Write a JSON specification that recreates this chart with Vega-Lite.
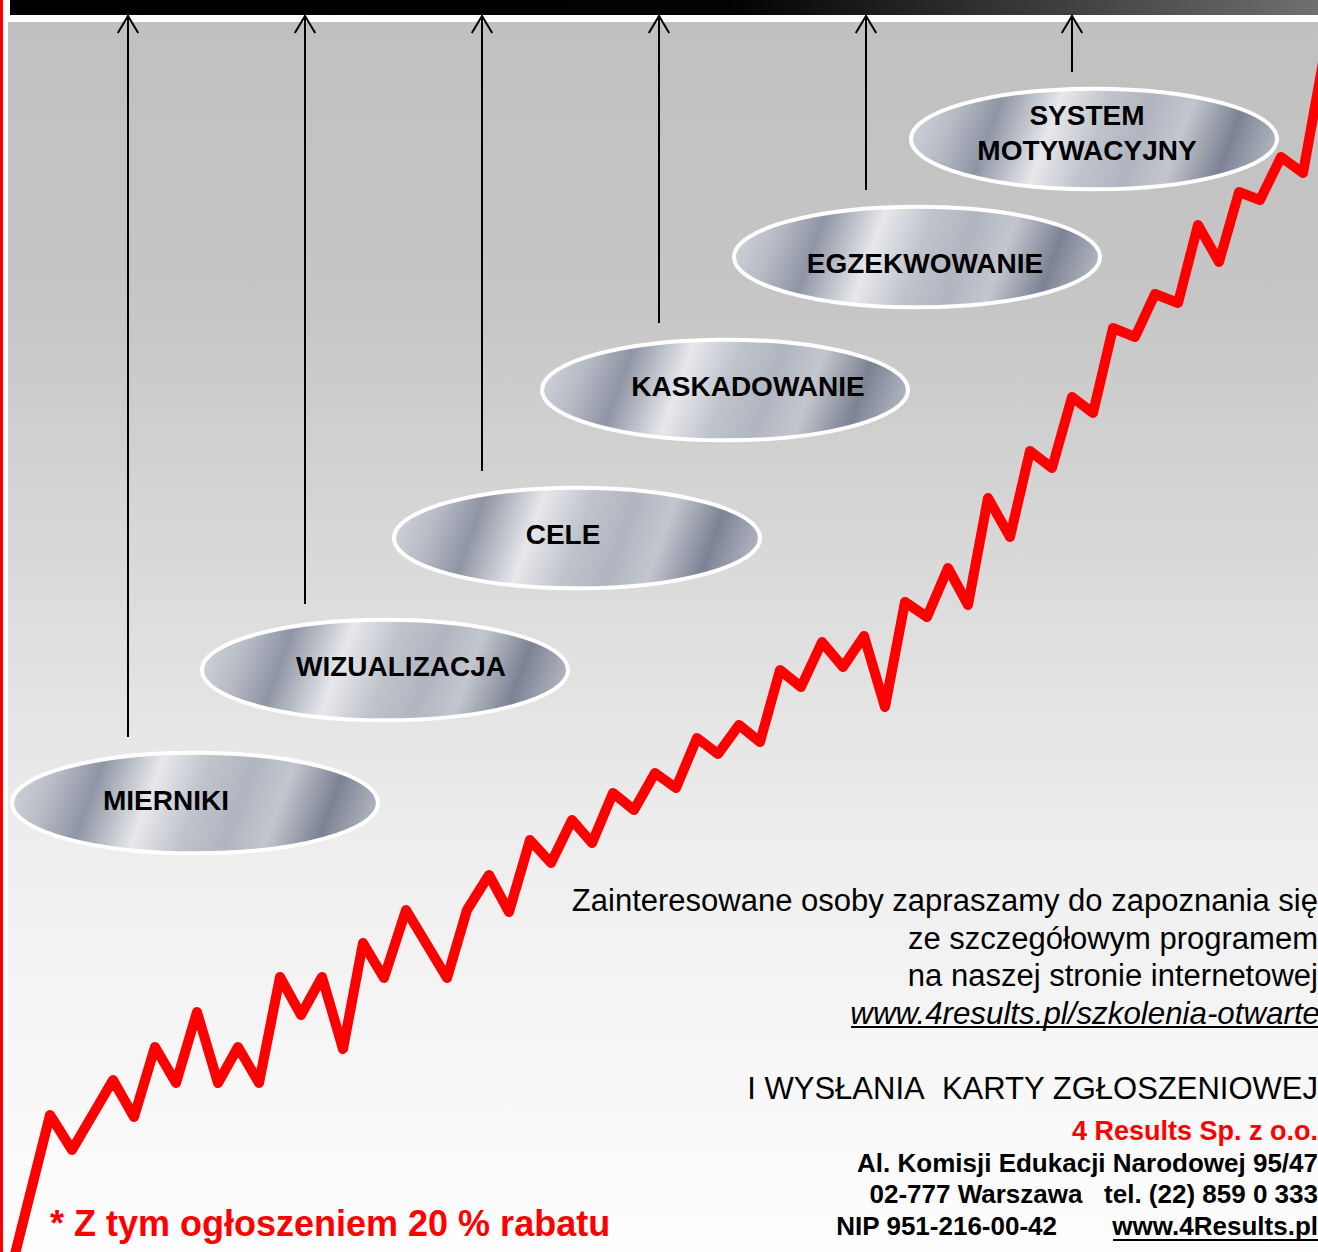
{
  "$schema": "https://vega.github.io/schema/vega-lite/v6.json",
  "width": 1318,
  "height": 1252,
  "autosize": {"type": "none"},
  "padding": 0,
  "background": "white",
  "config": {"view": {"stroke": null}},
  "datasets": {
    "frame": [
      {"part": "background", "x": 8, "x2": 1318, "y": 22, "y2": 1252},
      {"part": "top bar", "x": 10, "x2": 1318, "y": 0, "y2": 15},
      {"part": "left edge", "x": 0, "x2": 3, "y": 0, "y2": 1252}
    ],
    "stages": [
      {"stage": 1, "label": "MIERNIKI", "cx": 195, "cy": 803, "lx": 166, "ly": 810, "ax": 128, "atip": 17, "ahead": 24.5, "ay": 737},
      {"stage": 2, "label": "WIZUALIZACJA", "cx": 385, "cy": 670, "lx": 401, "ly": 676, "ax": 305, "atip": 17, "ahead": 24.5, "ay": 604},
      {"stage": 3, "label": "CELE", "cx": 577, "cy": 538, "lx": 563, "ly": 544, "ax": 482, "atip": 17, "ahead": 24.5, "ay": 471},
      {"stage": 4, "label": "KASKADOWANIE", "cx": 725, "cy": 390, "lx": 748, "ly": 396, "ax": 659, "atip": 17, "ahead": 24.5, "ay": 323},
      {"stage": 5, "label": "EGZEKWOWANIE", "cx": 917, "cy": 257, "lx": 925, "ly": 273, "ax": 866, "atip": 17, "ahead": 24.5, "ay": 190},
      {"stage": 6, "label": "SYSTEM\nMOTYWACYJNY", "cx": 1094, "cy": 139, "lx": 1087, "ly": 125, "ax": 1072, "atip": 17, "ahead": 24.5, "ay": 72}
    ],
    "growth": [
      {"step": 1, "x": 13, "y": 1262}, {"step": 2, "x": 50, "y": 1115}, {"step": 3, "x": 72, "y": 1150},
      {"step": 4, "x": 113, "y": 1080}, {"step": 5, "x": 134, "y": 1117}, {"step": 6, "x": 155, "y": 1047},
      {"step": 7, "x": 176, "y": 1083}, {"step": 8, "x": 197, "y": 1012}, {"step": 9, "x": 218, "y": 1083},
      {"step": 10, "x": 238, "y": 1047}, {"step": 11, "x": 259, "y": 1083}, {"step": 12, "x": 280, "y": 977},
      {"step": 13, "x": 301, "y": 1015}, {"step": 14, "x": 322, "y": 977}, {"step": 15, "x": 343, "y": 1049},
      {"step": 16, "x": 363, "y": 943}, {"step": 17, "x": 384, "y": 978}, {"step": 18, "x": 406, "y": 910},
      {"step": 19, "x": 447, "y": 978}, {"step": 20, "x": 467, "y": 910}, {"step": 21, "x": 489, "y": 875},
      {"step": 22, "x": 509, "y": 912}, {"step": 23, "x": 530, "y": 840}, {"step": 24, "x": 551, "y": 863},
      {"step": 25, "x": 572, "y": 820}, {"step": 26, "x": 592, "y": 843}, {"step": 27, "x": 613, "y": 793},
      {"step": 28, "x": 634, "y": 810}, {"step": 29, "x": 655, "y": 773}, {"step": 30, "x": 676, "y": 788},
      {"step": 31, "x": 697, "y": 738}, {"step": 32, "x": 718, "y": 754}, {"step": 33, "x": 739, "y": 725},
      {"step": 34, "x": 760, "y": 742}, {"step": 35, "x": 780, "y": 670}, {"step": 36, "x": 801, "y": 687},
      {"step": 37, "x": 822, "y": 642}, {"step": 38, "x": 843, "y": 667}, {"step": 39, "x": 864, "y": 636},
      {"step": 40, "x": 885, "y": 707}, {"step": 41, "x": 905, "y": 602}, {"step": 42, "x": 927, "y": 617},
      {"step": 43, "x": 948, "y": 568}, {"step": 44, "x": 968, "y": 605}, {"step": 45, "x": 988, "y": 498},
      {"step": 46, "x": 1010, "y": 537}, {"step": 47, "x": 1030, "y": 451}, {"step": 48, "x": 1052, "y": 468},
      {"step": 49, "x": 1072, "y": 397}, {"step": 50, "x": 1093, "y": 413}, {"step": 51, "x": 1113, "y": 328},
      {"step": 52, "x": 1135, "y": 337}, {"step": 53, "x": 1155, "y": 294}, {"step": 54, "x": 1178, "y": 303},
      {"step": 55, "x": 1198, "y": 225}, {"step": 56, "x": 1219, "y": 262}, {"step": 57, "x": 1239, "y": 192},
      {"step": 58, "x": 1260, "y": 200}, {"step": 59, "x": 1281, "y": 157}, {"step": 60, "x": 1303, "y": 173},
      {"step": 61, "x": 1327, "y": 40}
    ],
    "texts": [
      {"role": "body", "text": "Zainteresowane osoby zapraszamy do zapoznania się", "x": 1318, "y": 911},
      {"role": "body", "text": "ze szczegółowym programem", "x": 1318, "y": 949},
      {"role": "body", "text": "na naszej stronie internetowej", "x": 1318, "y": 986},
      {"role": "url", "text": "www.4results.pl/szkolenia-otwarte", "x": 1320, "y": 1024},
      {"role": "body", "text": "I WYSŁANIA\u00a0 KARTY ZGŁOSZENIOWEJ", "x": 1318, "y": 1099},
      {"role": "company", "text": "4 Results Sp. z o.o.", "x": 1318, "y": 1140},
      {"role": "address", "text": "Al. Komisji Edukacji Narodowej 95/47", "x": 1318, "y": 1172},
      {"role": "address", "text": "02-777 Warszawa\u00a0\u00a0 tel. (22) 859 0 333", "x": 1318, "y": 1203},
      {"role": "address", "text": "NIP 951-216-00-42", "x": 1057, "y": 1235},
      {"role": "address", "text": "www.4Results.pl", "x": 1318, "y": 1235},
      {"role": "promo", "text": "* Z tym ogłoszeniem 20 % rabatu", "x": 50, "y": 1236}
    ],
    "underlines": [
      {"link": "www.4results.pl/szkolenia-otwarte", "x": 851, "x2": 1318, "y": 1027},
      {"link": "www.4Results.pl", "x": 1113, "x2": 1318, "y": 1240}
    ]
  },
  "layer": [
    {
      "data": {"name": "frame"},
      "transform": [{"filter": "datum.part === 'background'"}],
      "mark": {
        "type": "rect",
        "fill": {
          "gradient": "linear", "x1": 0, "y1": 0, "x2": 0, "y2": 1,
          "stops": [
            {"offset": 0, "color": "#c0c0c0"},
            {"offset": 0.23, "color": "#c6c6c6"},
            {"offset": 0.49, "color": "#dedede"},
            {"offset": 0.67, "color": "#eeeeee"},
            {"offset": 1, "color": "#fefefe"}
          ]
        }
      },
      "encoding": {
        "x": {"field": "x", "type": "quantitative", "scale": {"domain": [0, 1318], "nice": false, "zero": false}, "axis": null},
        "x2": {"field": "x2"},
        "y": {"field": "y", "type": "quantitative", "scale": {"domain": [0, 1252], "reverse": true, "nice": false, "zero": false}, "axis": null},
        "y2": {"field": "y2"}
      }
    },
    {
      "data": {"name": "frame"},
      "transform": [{"filter": "datum.part === 'top bar'"}],
      "mark": {
        "type": "rect",
        "fill": {
          "gradient": "linear", "x1": 0, "y1": 0, "x2": 1, "y2": 0,
          "stops": [
            {"offset": 0, "color": "#000000"},
            {"offset": 0.55, "color": "#020202"},
            {"offset": 0.7, "color": "#262626"},
            {"offset": 0.85, "color": "#4a4a4a"},
            {"offset": 1, "color": "#707070"}
          ]
        }
      },
      "encoding": {
        "x": {"field": "x", "type": "quantitative", "axis": null},
        "x2": {"field": "x2"},
        "y": {"field": "y", "type": "quantitative", "axis": null},
        "y2": {"field": "y2"}
      }
    },
    {
      "data": {"name": "frame"},
      "transform": [{"filter": "datum.part === 'left edge'"}],
      "mark": {"type": "rect", "fill": "#ff0000"},
      "encoding": {
        "x": {"field": "x", "type": "quantitative", "axis": null},
        "x2": {"field": "x2"},
        "y": {"field": "y", "type": "quantitative", "axis": null},
        "y2": {"field": "y2"}
      }
    },
    {
      "data": {"name": "stages"},
      "mark": {"type": "rule", "color": "black", "strokeWidth": 2},
      "encoding": {
        "x": {"field": "ax", "type": "quantitative", "axis": null},
        "y": {"field": "atip", "type": "quantitative", "axis": null},
        "y2": {"field": "ay"}
      }
    },
    {
      "data": {"name": "stages"},
      "mark": {"type": "point", "shape": "M-0.6,0.5L0,-0.5L0.6,0.5", "filled": false, "stroke": "black", "strokeWidth": 2, "size": 1156, "opacity": 1},
      "encoding": {
        "x": {"field": "ax", "type": "quantitative", "axis": null},
        "y": {"field": "ahead", "type": "quantitative", "axis": null}
      }
    },
    {
      "data": {"name": "stages"},
      "mark": {
        "type": "point",
        "shape": "M-1,0C-1,-0.1519 -0.5523,-0.275 0,-0.275C0.5523,-0.275 1,-0.1519 1,0C1,0.1519 0.5523,0.275 0,0.275C-0.5523,0.275 -1,0.1519 -1,0Z",
        "size": 133956,
        "filled": true,
        "opacity": 1,
        "fill": {
          "gradient": "linear", "x1": 0, "y1": 0.45, "x2": 1, "y2": 0.55,
          "stops": [
            {"offset": 0, "color": "#cdd0d6"},
            {"offset": 0.1, "color": "#b6bac4"},
            {"offset": 0.21, "color": "#8f95a5"},
            {"offset": 0.37, "color": "#e7e8eb"},
            {"offset": 0.5, "color": "#bfc3cb"},
            {"offset": 0.62, "color": "#b1b5c0"},
            {"offset": 0.73, "color": "#c3c6ce"},
            {"offset": 0.87, "color": "#7c8394"},
            {"offset": 1, "color": "#b2b6c1"}
          ]
        },
        "stroke": "white",
        "strokeWidth": 4
      },
      "encoding": {
        "x": {"field": "cx", "type": "quantitative", "axis": null},
        "y": {"field": "cy", "type": "quantitative", "axis": null}
      }
    },
    {
      "data": {"name": "stages"},
      "mark": {"type": "text", "font": "Liberation Sans", "fontWeight": "bold", "fontSize": 28, "color": "black", "align": "center", "baseline": "alphabetic", "lineBreak": "\n", "lineHeight": 35},
      "encoding": {
        "x": {"field": "lx", "type": "quantitative", "axis": null},
        "y": {"field": "ly", "type": "quantitative", "axis": null},
        "text": {"field": "label", "type": "nominal"}
      }
    },
    {
      "data": {"name": "growth"},
      "mark": {"type": "line", "color": "#ff0000", "strokeWidth": 10, "strokeJoin": "round", "strokeCap": "round"},
      "encoding": {
        "x": {"field": "x", "type": "quantitative", "axis": null},
        "y": {"field": "y", "type": "quantitative", "axis": null},
        "order": {"field": "step", "type": "quantitative"}
      }
    },
    {
      "data": {"name": "texts"},
      "transform": [{"filter": "datum.role === 'body'"}],
      "mark": {"type": "text", "font": "Liberation Sans", "fontSize": 31, "color": "black", "align": "right", "baseline": "alphabetic"},
      "encoding": {
        "x": {"field": "x", "type": "quantitative", "axis": null},
        "y": {"field": "y", "type": "quantitative", "axis": null},
        "text": {"field": "text", "type": "nominal"}
      }
    },
    {
      "data": {"name": "texts"},
      "transform": [{"filter": "datum.role === 'url'"}],
      "mark": {"type": "text", "font": "Liberation Sans", "fontStyle": "italic", "fontSize": 31.3, "color": "black", "align": "right", "baseline": "alphabetic"},
      "encoding": {
        "x": {"field": "x", "type": "quantitative", "axis": null},
        "y": {"field": "y", "type": "quantitative", "axis": null},
        "text": {"field": "text", "type": "nominal"}
      }
    },
    {
      "data": {"name": "texts"},
      "transform": [{"filter": "datum.role === 'company'"}],
      "mark": {"type": "text", "font": "Liberation Sans", "fontWeight": "bold", "fontSize": 27, "color": "#ff0000", "align": "right", "baseline": "alphabetic"},
      "encoding": {
        "x": {"field": "x", "type": "quantitative", "axis": null},
        "y": {"field": "y", "type": "quantitative", "axis": null},
        "text": {"field": "text", "type": "nominal"}
      }
    },
    {
      "data": {"name": "texts"},
      "transform": [{"filter": "datum.role === 'address'"}],
      "mark": {"type": "text", "font": "Liberation Sans", "fontWeight": "bold", "fontSize": 26, "color": "black", "align": "right", "baseline": "alphabetic"},
      "encoding": {
        "x": {"field": "x", "type": "quantitative", "axis": null},
        "y": {"field": "y", "type": "quantitative", "axis": null},
        "text": {"field": "text", "type": "nominal"}
      }
    },
    {
      "data": {"name": "texts"},
      "transform": [{"filter": "datum.role === 'promo'"}],
      "mark": {"type": "text", "font": "Liberation Sans", "fontWeight": "bold", "fontSize": 36, "color": "#ff0000", "align": "left", "baseline": "alphabetic"},
      "encoding": {
        "x": {"field": "x", "type": "quantitative", "axis": null},
        "y": {"field": "y", "type": "quantitative", "axis": null},
        "text": {"field": "text", "type": "nominal"}
      }
    },
    {
      "data": {"name": "underlines"},
      "mark": {"type": "rule", "color": "black", "strokeWidth": 2},
      "encoding": {
        "x": {"field": "x", "type": "quantitative", "axis": null},
        "x2": {"field": "x2"},
        "y": {"field": "y", "type": "quantitative", "axis": null}
      }
    }
  ]
}
